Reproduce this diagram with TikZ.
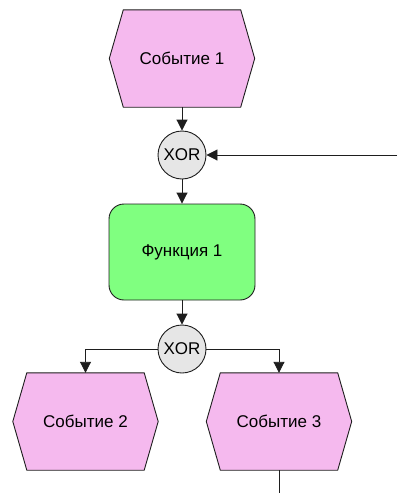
\documentclass[tikz,border=0pt]{standalone}
\usepackage{fontspec}
\setmainfont{Liberation Sans}
\usetikzlibrary{arrows.meta,backgrounds}

\definecolor{evpink}{RGB}{245,185,238}
\definecolor{fngreen}{RGB}{128,255,128}
\definecolor{opgray}{RGB}{230,230,230}
\definecolor{edge}{RGB}{30,30,30}

\tikzset{
  lbl/.style={font=\fontsize{17}{20}\selectfont, text=black},
  evbox/.style={lbl, minimum width=145pt, minimum height=97pt, inner sep=0pt},
  evfill/.style={fill=evpink, draw=edge, line width=0.9pt},
  fnbox/.style={lbl, draw=edge, fill=fngreen, line width=0.9pt, rounded corners=15pt,
                minimum width=146pt, minimum height=96pt, inner sep=0pt},
  opcirc/.style={lbl, circle, draw=edge, fill=opgray, line width=0.9pt,
                 minimum size=48pt, inner sep=0pt},
  link/.style={draw=edge, line width=0.9pt},
  arr/.style={link, -{Triangle[length=11pt,width=11pt]}},
}

% hexagonal event outline behind a named event node
\newcommand\evshape[1]{%
  \begin{pgfonlayer}{background}
    \path[evfill] ([xshift=14pt]#1.north west) -- ([xshift=-14pt]#1.north east)
      -- (#1.east) -- ([xshift=-14pt]#1.south east) -- ([xshift=14pt]#1.south west)
      -- (#1.west) -- cycle;
  \end{pgfonlayer}}

\begin{document}
\begin{tikzpicture}[x=1pt,y=-1pt]
  \useasboundingbox (0,0) rectangle (397,493);

  \node[evbox] (e1) at (182,58.5) {Событие 1};
  \evshape{e1}
  \node[opcirc] (x1) at (182,155) {XOR};
  \node[fnbox] (f1) at (182,252) {Функция 1};
  \node[opcirc] (x2) at (182,349) {XOR};
  \node[evbox] (e2) at (85.5,421.5) {Событие 2};
  \evshape{e2}
  \node[evbox] (e3) at (279,421.5) {Событие 3};
  \evshape{e3}

  \coordinate (in) at (397,155);
  \coordinate (out) at (279,493);

  \draw[arr] (e1) -- (x1);
  \draw[arr] (in) -- (x1);
  \draw[arr] (x1) -- (f1);
  \draw[arr] (f1) -- (x2);
  \draw[arr] (x2) -| (e2);
  \draw[arr] (x2) -| (e3);
  \draw[link] (e3) -- (out);
\end{tikzpicture}
\end{document}
